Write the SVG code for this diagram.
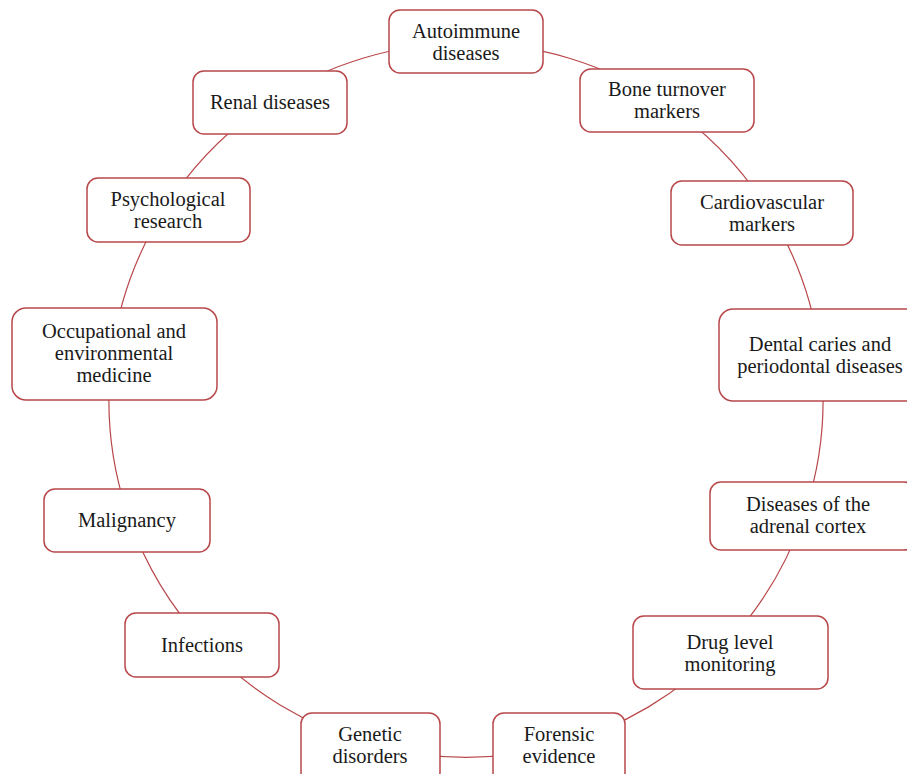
<svg xmlns="http://www.w3.org/2000/svg" width="907" height="774" viewBox="0 0 907 774">
<style>
.box{fill:#ffffff;stroke:#b8474a;stroke-width:1.5}
.con{fill:none;stroke:#b8474a;stroke-width:1.2}
text{font-family:"Liberation Serif","Times New Roman",serif;font-size:20.5px;fill:#1a1a1a;text-anchor:middle}
</style>
<rect width="907" height="774" fill="#ffffff"/>
<g id="connectors">
<path class="con" d="M466,43 A357,357 0 0 1 665.2,103.7"/>
<path class="con" d="M665.2,103.7 A357,357 0 0 1 767.8,209.4"/>
<path class="con" d="M767.8,209.4 A357,357 0 0 1 820.1,354.6"/>
<path class="con" d="M820.1,354.6 A357,357 0 0 1 804.4,513.9"/>
<path class="con" d="M804.4,513.9 A357,357 0 0 1 724.1,646.7"/>
<path class="con" d="M724.1,646.7 A357,357 0 0 1 558.8,744.9"/>
<path class="con" d="M558.8,744.9 A357,357 0 0 1 370.7,744.1"/>
<path class="con" d="M370.7,744.1 A357,357 0 0 1 204.3,643.1"/>
<path class="con" d="M204.3,643.1 A357,357 0 0 1 129.4,519.2"/>
<path class="con" d="M129.4,519.2 A357,357 0 0 1 111.9,354.6"/>
<path class="con" d="M111.9,354.6 A357,357 0 0 1 165,208.3"/>
<path class="con" d="M165,208.3 A357,357 0 0 1 270,101.6"/>
<path class="con" d="M270,101.6 A357,357 0 0 1 466,43"/>
</g>
<g id="autoimmune"><rect class="box" x="389" y="10" width="154" height="63" rx="11"/><text x="466" y="38">Autoimmune</text><text x="466" y="60">diseases</text></g>
<g id="bone"><rect class="box" x="580" y="69" width="174" height="63" rx="11"/><text x="667" y="96">Bone turnover</text><text x="667" y="118">markers</text></g>
<g id="cardio"><rect class="box" x="671" y="181" width="182" height="64" rx="11"/><text x="762" y="209">Cardiovascular</text><text x="762" y="231">markers</text></g>
<g id="dental"><rect class="box" x="719" y="309" width="202" height="92" rx="14"/><text x="820" y="351">Dental caries and</text><text x="820" y="373">periodontal diseases</text></g>
<g id="adrenal"><rect class="box" x="710" y="482" width="205" height="68" rx="11"/><text x="808" y="511">Diseases of the</text><text x="808" y="533">adrenal cortex</text></g>
<g id="drug"><rect class="box" x="633" y="616" width="195" height="73" rx="11"/><text x="730" y="649">Drug level</text><text x="730" y="671">monitoring</text></g>
<g id="forensic"><rect class="box" x="493" y="713" width="132" height="70" rx="11"/><text x="559" y="741">Forensic</text><text x="559" y="763">evidence</text></g>
<g id="genetic"><rect class="box" x="301" y="713" width="139" height="70" rx="11"/><text x="370" y="741">Genetic</text><text x="370" y="763">disorders</text></g>
<g id="infections"><rect class="box" x="125" y="613" width="154" height="64" rx="11"/><text x="202" y="652">Infections</text></g>
<g id="malignancy"><rect class="box" x="44" y="489" width="166" height="63" rx="11"/><text x="127" y="527">Malignancy</text></g>
<g id="occupational"><rect class="box" x="12" y="308" width="205" height="92" rx="14"/><text x="114" y="338">Occupational and</text><text x="114" y="360">environmental</text><text x="114" y="382">medicine</text></g>
<g id="psychological"><rect class="box" x="87" y="178" width="163" height="64" rx="11"/><text x="168" y="206">Psychological</text><text x="168" y="228">research</text></g>
<g id="renal"><rect class="box" x="193" y="71" width="154" height="63" rx="11"/><text x="270" y="109">Renal diseases</text></g>
</svg>
